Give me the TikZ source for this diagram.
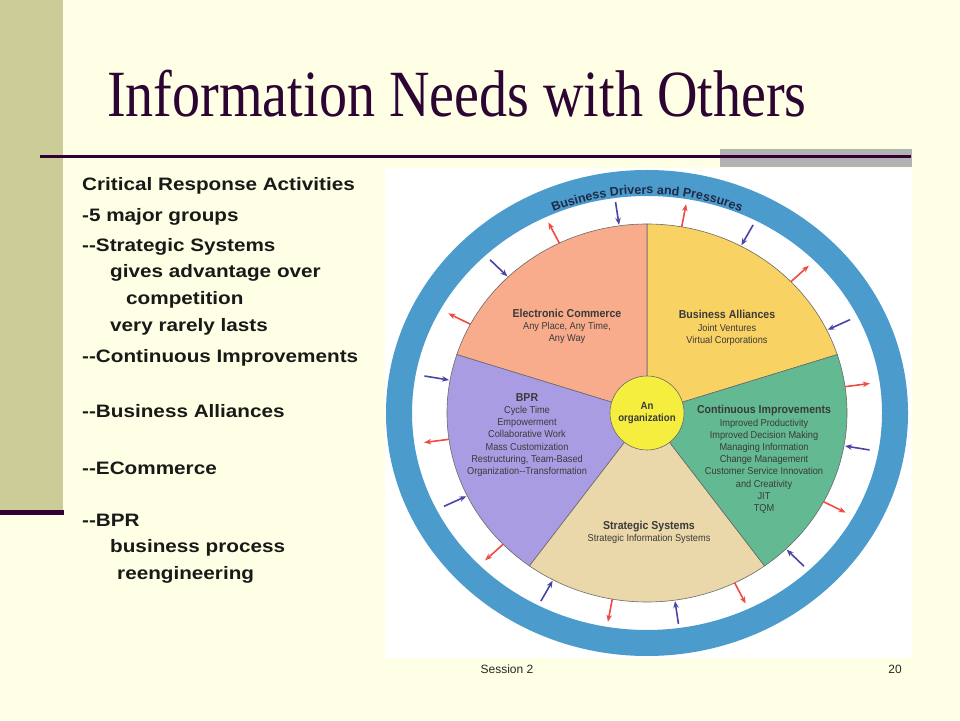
\documentclass[tikz,border=0pt]{standalone}
\usepackage{fontspec}
\setmainfont{Liberation Sans}
\newfontfamily\titlefont[FakeStretch=0.85]{Liberation Serif}
\newfontfamily\listfont[FakeStretch=1.15]{Liberation Sans}
\newfontfamily\piefont[FakeStretch=0.92]{Liberation Sans}
\newcommand\segtitlefont{\piefont\fontsize{11.5}{12.2}\selectfont\bfseries}
\usetikzlibrary{arrows.meta,decorations.text}

\definecolor{bgCream}{HTML}{FFFFE5}
\definecolor{stripOlive}{HTML}{CCCC99}
\definecolor{barPlum}{HTML}{330033}
\definecolor{titlePlum}{HTML}{2D0533}
\definecolor{barGray}{HTML}{B2B2B2}
\definecolor{ringBlue}{HTML}{4B9BCD}
\definecolor{pieSalmon}{HTML}{F8AC8C}
\definecolor{pieYellow}{HTML}{F9D264}
\definecolor{pieGreen}{HTML}{63B992}
\definecolor{piePurple}{HTML}{AA9CE2}
\definecolor{pieBeige}{HTML}{EAD7AA}
\definecolor{hubYellow}{HTML}{F6EE3E}
\definecolor{pieEdge}{HTML}{6A6A6A}
\definecolor{arrowRed}{HTML}{EE4B43}
\definecolor{arrowBlue}{HTML}{4A45A5}
\definecolor{ringText}{HTML}{1F2A44}
\definecolor{segText}{HTML}{3A3A3A}

\begin{document}
\begin{tikzpicture}[x=1pt,y=1pt,>={Stealth[length=7pt,width=5.5pt]},shorten >=1pt,
	listline/.style={anchor=base west,inner sep=0pt,text=black!90,font=\listfont\fontsize{18}{20}\selectfont\bfseries},
	seglabel/.style={align=center,inner sep=0pt,text=segText,font=\piefont\fontsize{10}{12.2}\selectfont},
	outarrow/.style={->,draw=arrowRed,line width=1.6pt},
	inarrow/.style={->,draw=arrowBlue,line width=1.6pt},
	footer/.style={inner sep=0pt,text=black!85,font=\fontsize{12}{14}\selectfont}]

\fill[bgCream] (0,0) rectangle (960,720);
\useasboundingbox (0,0) rectangle (960,720);
\fill[stripOlive] (0,210) rectangle (63,720);
\fill[barPlum] (0,205) rectangle (64,210);
\fill[barGray] (720,553) rectangle (912,571);
\draw[barPlum,line width=3pt] (40,563) -- (912,563);

\node[anchor=base west,inner sep=0pt,text=titlePlum,font=\titlefont\fontsize{66}{70}\selectfont] (title) at (107,603.3) {Information Needs with Others};

\node[listline] (crit) at (82,529.3) {Critical Response Activities};
\node[listline] (groups) at (82,498.3) {-5 major groups};
\node[listline] (strat) at (82,468.3) {--Strategic Systems};
	\node[listline] (gives) at (110,442) {gives advantage over};
	\node[listline] (compet) at (126,415) {competition};
	\node[listline] (rarely) at (110,388.3) {very rarely lasts};
\node[listline] (contin) at (82,357.5) {--Continuous Improvements};
\node[listline] (allian) at (82,302) {--Business Alliances};
\node[listline] (ecomm) at (82,245) {--ECommerce};
\node[listline] (bpr) at (82,193.3) {--BPR};
	\node[listline] (bproc) at (110,167) {business process};
	\node[listline] (reeng) at (117,140) {reengineering};

\fill[white] (385,62) rectangle (912,552);
\coordinate (hub) at (647,307);

\fill[ringBlue,even odd rule] (hub) ellipse[x radius=261,y radius=243]
	(hub) ellipse[x radius=235,y radius=217];
\path[decorate,decoration={text along path,text align=center,
	text={|\fontsize{12.5}{12.5}\selectfont\bfseries\color{ringText}|Business Drivers and Pressures}}]
	(hub) ++(150:236 and 219) arc[start angle=150,end angle=30,x radius=236,y radius=219];

\foreach \a/\b/\c in {18/90/pieYellow,90/162/pieSalmon,162/234/piePurple,234/306/pieBeige,306/378/pieGreen}
	\filldraw[fill=\c,draw=pieEdge,line width=0.6pt] (hub) -- ++(\a:200 and 189)
		arc[start angle=\a,end angle=\b,x radius=200,y radius=189] -- cycle;

\foreach \k in {0,...,19}{
	\pgfmathtruncatemacro\odd{mod(\k,2)}
	\pgfmathsetmacro\ang{8+18*\k}
	\ifnum\odd=0
		\draw[outarrow] (hub) ++(\ang:200 and 189) -- ++(\ang:26 and 24);
	\else
		\draw[inarrow] (hub) ++(\ang:226 and 213) -- ++(\ang+180:26 and 24);
	\fi
}

\node[circle,fill=hubYellow,draw=pieEdge,line width=0.6pt,minimum size=74,inner sep=0pt,
	align=center,text=segText,font=\piefont\fontsize{10.5}{12.5}\selectfont\bfseries] (org) at (hub) {An\\organization};

\node[seglabel] (ec) at (567,393.5) {{\segtitlefont Electronic Commerce}\\Any Place, Any Time,\\Any Way};
\node[seglabel] (ba) at (727,392) {{\segtitlefont Business Alliances}\\Joint Ventures\\Virtual Corporations};
\node[seglabel] (bp) at (527,285) {{\segtitlefont BPR}\\Cycle Time\\Empowerment\\Collaborative Work\\Mass Customization\\Restructuring, Team-Based\\Organization--Transformation};
\node[seglabel] (ci) at (764,260.5) {{\segtitlefont Continuous Improvements}\\Improved Productivity\\Improved Decision Making\\Managing Information\\Change Management\\Customer Service Innovation\\and Creativity\\JIT\\TQM};
\node[seglabel] (ss) at (649,188) {{\segtitlefont Strategic Systems}\\Strategic Information Systems};

\node[footer] (sess) at (507,51) {Session 2};
\node[footer] (page) at (895,51) {20};

\end{tikzpicture}
\end{document}
